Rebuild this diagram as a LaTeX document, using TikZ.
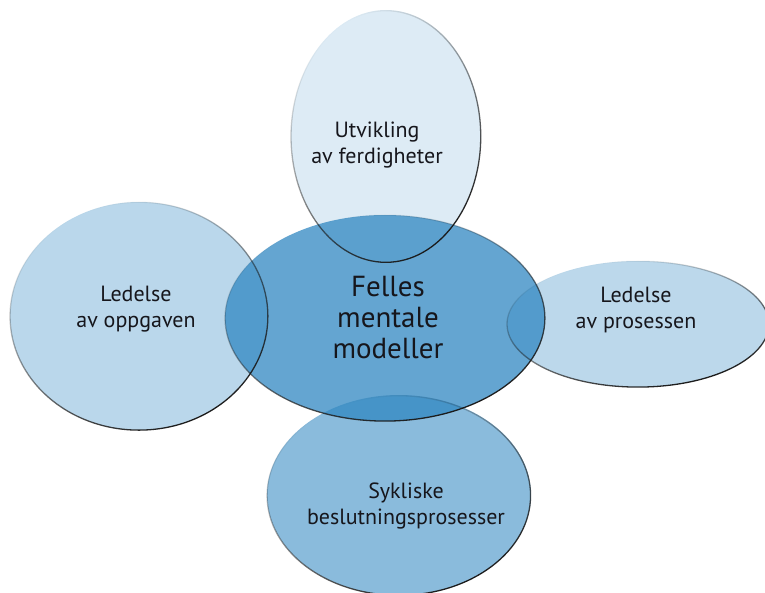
\documentclass[tikz,border=0pt]{standalone}
\usepackage{fontspec}
\setmainfont{PT Sans}
\usetikzlibrary{fadings}

% rim fades out towards the upper left
\tikzfading[name=rimfade, top color=transparent!100, middle color=transparent!55, bottom color=transparent!0]

\definecolor{bubble}{HTML}{2E86C1}
\definecolor{rimcol}{HTML}{1A1A1A}
\definecolor{inkcol}{HTML}{16161C}

\tikzset{
  bubblefill/.style={fill=bubble, fill opacity=#1},
  rim/.style={draw=rimcol, line width=1.3pt, path fading=rimfade, fading angle=30},
  label/.style={font=\fontsize{22}{26}\selectfont, text=inkcol, align=center, anchor=base, inner sep=0pt},
  biglabel/.style={font=\fontsize{29}{31}\selectfont, text=inkcol, align=center, anchor=base, inner sep=0pt}
}

\begin{document}
\begin{tikzpicture}[x=1pt,y=-1pt]
\useasboundingbox (0,0) rectangle (765,593);

% translucent bubbles
\fill[bubblefill=0.74] (385,318) ellipse [x radius=160, y radius=103];
\fill[bubblefill=0.165] (386,136) ellipse [x radius=95, y radius=126];
\fill[bubblefill=0.33] (139,316) ellipse [x radius=129, y radius=114];
\fill[bubblefill=0.32] (638,324) ellipse [x radius=131, y radius=63];
\fill[bubblefill=0.56] (399,495) ellipse [x radius=132, y radius=100];

% rims
\draw[rim] (385,318) ellipse [x radius=160, y radius=103];
\draw[rim] (386,136) ellipse [x radius=95, y radius=126];
\draw[rim] (139,316) ellipse [x radius=129, y radius=114];
\draw[rim] (638,324) ellipse [x radius=131, y radius=63];
\draw[rim] (399,495) ellipse [x radius=132, y radius=100];

% labels (anchored at the baseline of the last line)
\node[biglabel] (core) at (388,358) {Felles\\mentale\\modeller};
\node[label] (skills) at (377,163.5) {Utvikling\\av ferdigheter};
\node[label] (task) at (136,327) {Ledelse\\av oppgaven};
\node[label] (process) at (636,328.5) {Ledelse\\av prosessen};
\node[label] (cycles) at (406,524) {Sykliske\\beslutningsprosesser};
\end{tikzpicture}
\end{document}
